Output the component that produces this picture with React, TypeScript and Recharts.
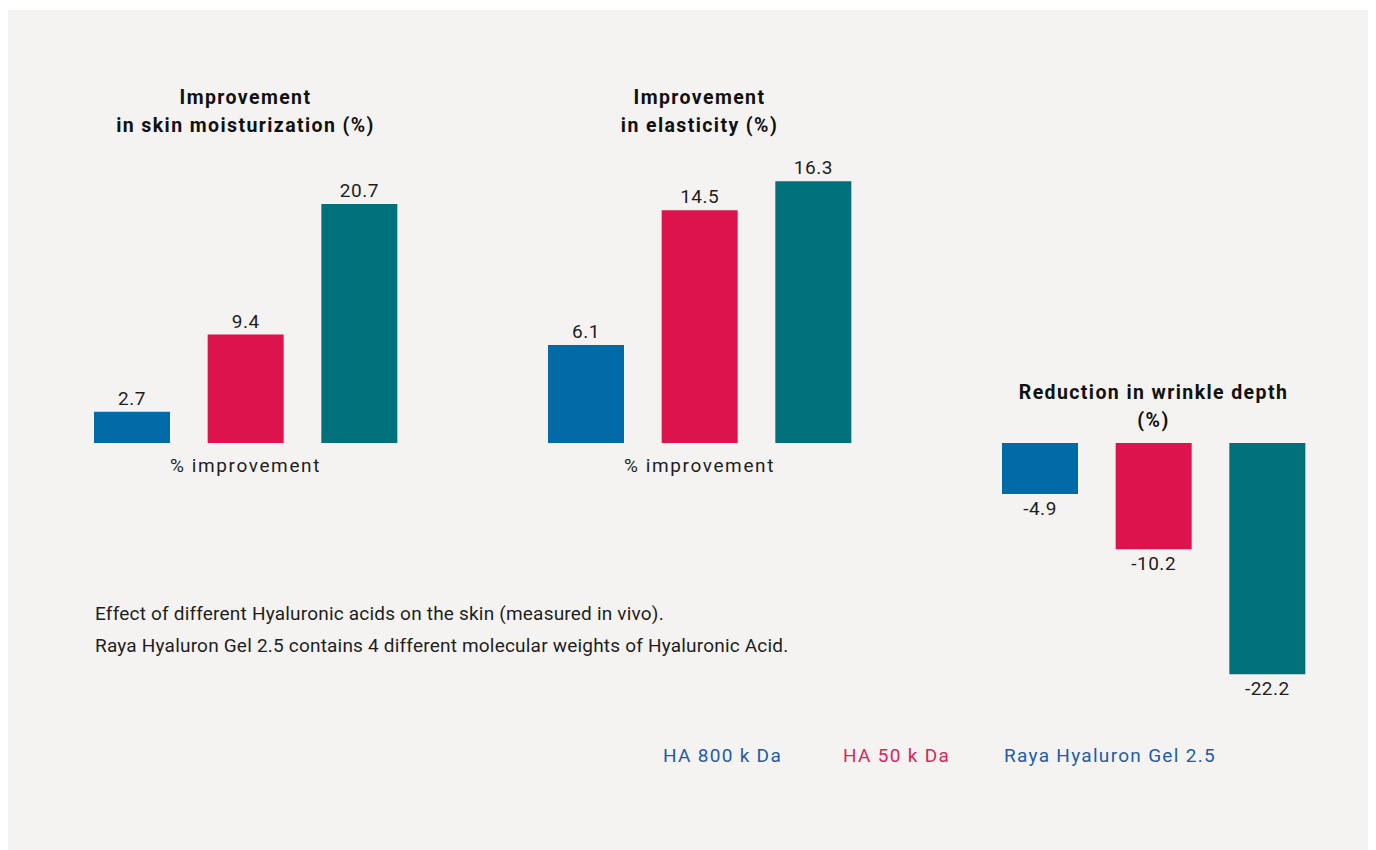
import React from 'react';
import { BarChart, Bar, XAxis, YAxis, Cell, LabelList } from 'recharts';

const products = ['HA 800 k Da', 'HA 50 k Da', 'Raya Hyaluron Gel 2.5'];
const barColors = ['#006ba6', '#dc134c', '#00707a'];
const legendColors = ['#1f5ca8', '#e0245a', '#1f5ca8'];

const moisturization = [2.7, 9.4, 20.7];
const elasticity = [6.1, 14.5, 16.3];
const wrinkleDepth = [-4.9, -10.2, -22.2];

const font = 'Roboto, "DejaVu Sans", sans-serif';
const textColor = '#1e1e1e';

const toRows = (values: number[]) => products.map((name, i) => ({ name, value: values[i] }));

type PanelProps = {
  values: number[];
  domain: [number, number];
  left: number;
  top: number;
  plotHeight: number;
  marginTop: number;
};

function Panel({ values, domain, left, top, plotHeight, marginTop }: PanelProps) {
  const marginBottom = 40;
  return (
    <div style={{ position: 'absolute', left, top }}>
      <BarChart
        width={341}
        height={marginTop + plotHeight + marginBottom}
        data={toRows(values)}
        margin={{ top: marginTop, right: 0, bottom: marginBottom, left: 0 }}
      >
        <XAxis dataKey="name" hide />
        <YAxis domain={domain} hide allowDataOverflow />
        <Bar dataKey="value" barSize={76} isAnimationActive={false}>
          {values.map((_, i) => (
            <Cell key={i} fill={barColors[i]} />
          ))}
          <LabelList
            dataKey="value"
            position="top"
            offset={7}
            style={{ fontFamily: font, fontSize: 19, fill: textColor, letterSpacing: 0.5 }}
          />
        </Bar>
      </BarChart>
    </div>
  );
}

const titleStyle: React.CSSProperties = {
  position: 'absolute',
  width: 341,
  textAlign: 'center',
  fontFamily: font,
  fontWeight: 700,
  fontSize: 19.5,
  letterSpacing: 1.4,
  lineHeight: '28px',
  color: '#111',
};

const plainStyle: React.CSSProperties = {
  position: 'absolute',
  fontFamily: font,
  fontSize: 19,
  lineHeight: '32px',
  color: textColor,
  whiteSpace: 'nowrap',
};

export default function App() {
  // container origin sits at page (8, 10)
  return (
    <div
      style={{
        position: 'relative',
        top: 2,
        width: 1362,
        height: 842,
        background: '#f4f3f1',
      }}
    >
      <div style={{ ...titleStyle, left: 67, top: 74 }}>
        Improvement
        <br />
        in skin moisturization (%)
      </div>
      <div style={{ ...titleStyle, left: 521, top: 74 }}>
        Improvement
        <br />
        in elasticity (%)
      </div>
      <div style={{ ...titleStyle, left: 965, width: 361, top: 369 }}>
        Reduction in wrinkle depth
        <br />
        (%)
      </div>

      <Panel values={moisturization} domain={[0, 24]} left={67} top={130} plotHeight={277} marginTop={26} />
      <Panel values={elasticity} domain={[0, 17]} left={521} top={130} plotHeight={273} marginTop={30} />
      <Panel values={wrinkleDepth} domain={[-24, 0]} left={975} top={420} plotHeight={250} marginTop={13} />

      {[67, 521].map((l) => (
        <div key={l} style={{ ...plainStyle, left: l, width: 341, textAlign: 'center', top: 440, letterSpacing: 1.6 }}>
          % improvement
        </div>
      ))}

      <div style={{ ...plainStyle, left: 87, top: 588, letterSpacing: 0.2 }}>
        Effect of different Hyaluronic acids on the skin (measured in vivo).
        <br />
        Raya Hyaluron Gel 2.5 contains 4 different molecular weights of Hyaluronic Acid.
      </div>

      {products.map((p, i) => (
        <div
          key={p}
          style={{ ...plainStyle, top: 730, left: [655, 835, 996][i], color: legendColors[i], letterSpacing: 1.3 }}
        >
          {p}
        </div>
      ))}
    </div>
  );
}
